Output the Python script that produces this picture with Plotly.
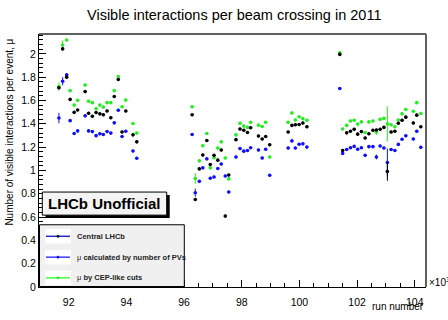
import plotly.graph_objects as go

# ---- data (run number in units of 10^3) ----
run_k = [91.66, 91.79, 91.93, 92.05, 92.19, 92.31, 92.57, 92.69, 92.82, 92.95,
         93.08, 93.20, 93.33, 93.46, 93.58, 93.72, 93.85, 93.98, 94.23, 94.36,
         96.28, 96.39, 96.53, 96.65, 96.79, 96.91, 97.04, 97.17, 97.29, 97.43,
         97.55, 97.80, 97.94, 98.07, 98.20, 98.31, 98.58, 98.71, 98.83, 98.97,
         99.61, 99.74, 99.86, 99.99, 100.12, 100.26,
         101.40, 101.50, 101.64, 101.77, 101.90, 102.02, 102.15, 102.28, 102.41, 102.55,
         102.67, 102.80, 102.93, 103.05, 103.18, 103.31, 103.43, 103.56, 103.69, 103.95,
         104.07, 104.21]

mu_central = [1.709, 2.042, 1.800, 1.609, 1.498, 1.518, 1.676, 1.490, 1.465, 1.496,
              1.485, 1.477, 1.510, 1.452, 1.634, 1.780, 1.330, 1.510, 1.305, 1.245,
              1.477, 0.751, 1.013, 1.132, 1.256, 1.051, 1.129, 1.088, 1.175, 0.608,
              0.960, 1.264, 1.355, 1.344, 1.325, 1.366, 1.295, 1.270, 1.291, 1.220,
              1.330, 1.386, 1.391, 1.394, 1.407, 1.374,
              1.995, 1.171, 1.322, 1.336, 1.353, 1.311, 1.333, 1.278, 1.314, 1.344,
              1.347, 1.353, 1.369, 0.991, 1.330, 1.336, 1.405, 1.430, 1.457, 1.407,
              1.474, 1.374]

mu_pv = [1.449, 1.765, 1.821, 1.427, 1.316, 1.339, 1.468, 1.339, 1.333, 1.298,
         1.314, 1.308, 1.333, 1.320, 1.408, 1.516, 1.291, 1.336, 1.167, 1.104,
         1.308, 0.809, 0.906, 1.022, 1.099, 0.933, 0.944, 1.016, 1.055, 0.952,
         0.815, 1.115, 1.187, 1.165, 1.171, 1.195, 1.175, 1.107, 1.181, 0.958,
         1.192, 1.253, 1.192, 1.225, 1.228, 1.200,
         1.703, 1.146, 1.179, 1.195, 1.206, 1.181, 1.195, 1.129, 1.204, 1.204,
         1.115, 1.209, 1.192, 1.068, 1.179, 1.171, 1.223, 1.267, 1.297, 1.270,
         1.336, 1.198]

mu_cep = [1.719, 2.075, 2.119, 1.684, 1.560, 1.601, 1.733, 1.593, 1.581, 1.529,
          1.560, 1.543, 1.581, 1.581, 1.684, 1.805, 1.546, 1.603, 1.402, 1.320,
          1.546, 0.930, 1.082, 1.212, 1.316, 1.022, 1.109, 1.192, 1.245, 1.107,
          0.927, 1.305, 1.405, 1.380, 1.369, 1.413, 1.388, 1.377, 1.413, 1.115,
          1.413, 1.493, 1.432, 1.460, 1.444, 1.430,
          2.009, 1.355, 1.386, 1.424, 1.430, 1.397, 1.416, 1.325, 1.416, 1.424,
          1.330, 1.438, 1.446, 1.399, 1.391, 1.374, 1.432, 1.485, 1.523, 1.507,
          1.581, 1.488]

# y errors (default small, a few visibly larger)
err_default = 0.012
err_central = {103.05: 0.08}
err_pv = {91.66: 0.045, 91.79: 0.035, 96.39: 0.035, 102.67: 0.02, 103.05: 0.12}
err_cep = {91.66: 0.035, 91.79: 0.04, 96.39: 0.046, 102.67: 0.027, 103.05: 0.15}

legend_labels = ["Central LHCb", "μ calculated by number of PVs", "μ by CEP-like cuts"]
title_text = "Visible interactions per beam crossing in 2011"
ytitle_text = "Number of visible interactions per event, μ"
xtitle_text = "run number"
x_ticks = [92, 94, 96, 98, 100, 102, 104]

# ---- layout geometry (pixels) ----
W, H = 448, 320
L, R, T, B = 39, 22, 34, 23
PW, PH = W - L - R, H - T - B


def px(x):
    return (x - L) / PW


def py(y):
    return (H - B - y) / PH


FONT = "Liberation Sans, Arial, Helvetica, sans-serif"
BLACK = "#000000"
BLUE = "#1010ff"
GREEN = "#22ee22"


def errs(d):
    return [d.get(x, err_default) for x in run_k]


fig = go.Figure()
for name, vals, col, ed in [(legend_labels[2], mu_cep, GREEN, err_cep),
                            (legend_labels[1], mu_pv, BLUE, err_pv),
                            (legend_labels[0], mu_central, BLACK, err_central)]:
    fig.add_trace(go.Scatter(
        x=run_k, y=vals, mode="markers", name=name, showlegend=False,
        marker=dict(size=3.6, color=col, line=dict(width=0)),
        error_y=dict(type="data", array=errs(ed), visible=True,
                     color=col, thickness=1, width=0),
        error_x=dict(type="constant", value=0.05, visible=True,
                     color=col, thickness=1, width=0),
    ))

shapes = []
# frame top/right (grey)
shapes.append(dict(type="line", xref="paper", yref="paper", x0=0, x1=1, y0=1, y1=1,
                   line=dict(color="#606060", width=2)))
shapes.append(dict(type="line", xref="paper", yref="paper", x0=1, x1=1, y0=0, y1=1,
                   line=dict(color="#606060", width=2)))

# legend box
shapes.append(dict(type="rect", xref="paper", yref="paper",
                   x0=px(39.5), x1=px(184.3), y0=py(296.5), y1=py(232.3),
                   fillcolor="#f0f0f0", line=dict(color="black", width=1), layer="above"))
entry_y = [244.3, 266.0, 287.5]
line_cols = ["#2828c8", "#3a3aff", "#44ff44"]
dot_cols = [BLACK, BLUE, GREEN]
annotations = []
for yy, lc, dc, lab in zip(entry_y, line_cols, dot_cols, legend_labels):
    shapes.append(dict(type="rect", xref="paper", yref="paper",
                       x0=px(45), x1=px(71), y0=py(yy + 7.5), y1=py(yy - 7.5),
                       fillcolor="white", line=dict(width=0), layer="above"))
    shapes.append(dict(type="line", xref="paper", yref="paper",
                       x0=px(46), x1=px(70), y0=py(yy), y1=py(yy),
                       line=dict(color=lc, width=1.5), layer="above"))
    shapes.append(dict(type="circle", xref="paper", yref="paper",
                       x0=px(56.8), x1=px(59.2), y0=py(yy + 1.2), y1=py(yy - 1.2),
                       fillcolor=dc, line=dict(color=dc, width=0.5), layer="above"))
    if lab.startswith("μ"):
        txt = "μ <b>" + lab[2:] + "</b>"
    else:
        txt = "<b>" + lab + "</b>"
    annotations.append(dict(text=txt, xref="paper", yref="paper", x=px(74.5), y=py(yy),
                            xanchor="left", yanchor="middle", showarrow=False,
                            font=dict(family=FONT, size=7.5, color="#222222")))

# LHCb Unofficial box with shadow
shapes.append(dict(type="rect", xref="paper", yref="paper",
                   x0=px(45.5), x1=px(169.7), y0=py(225.3), y1=py(201.3),
                   fillcolor="black", line=dict(width=0), layer="above"))
shapes.append(dict(type="rect", xref="paper", yref="paper",
                   x0=px(42.3), x1=px(166.7), y0=py(222.3), y1=py(198.3),
                   fillcolor="#f4f4f4", line=dict(color="black", width=1), layer="above"))
annotations.append(dict(text="<b>LHCb Unofficial</b>", xref="paper", yref="paper",
                        x=px(104.5), y=py(210.5), xanchor="center", yanchor="middle",
                        showarrow=False, font=dict(family=FONT, size=15, color="black")))

# title
annotations.append(dict(text=title_text, xref="paper", yref="paper",
                        x=px(234), y=py(14), xanchor="center", yanchor="middle",
                        showarrow=False, font=dict(family=FONT, size=14.5, color="black")))
# y title
annotations.append(dict(text=ytitle_text, xref="paper", yref="paper",
                        x=px(9.7), y=py(36.5), xanchor="center", yanchor="top",
                        textangle=-90, showarrow=False,
                        font=dict(family=FONT, size=10, color="black")))
# x title and multiplier
annotations.append(dict(text=xtitle_text, xref="paper", yref="paper",
                        x=px(426), y=py(309.5), xanchor="right", yanchor="top",
                        showarrow=False, font=dict(family=FONT, size=10, color="black")))
annotations.append(dict(text="×10<sup>3</sup>", xref="paper", yref="paper",
                        x=px(427), y=py(292), xanchor="left", yanchor="middle",
                        showarrow=False, font=dict(family=FONT, size=10, color="black")))

fig.update_layout(
    width=W, height=H,
    margin=dict(l=L, r=R, t=T, b=B, pad=0),
    paper_bgcolor="white", plot_bgcolor="white",
    showlegend=False,
    shapes=shapes, annotations=annotations,
    font=dict(family=FONT, size=10, color="black"),
    xaxis=dict(range=[90.97, 104.39], tickvals=x_ticks, ticktext=[str(v) for v in x_ticks],
               ticks="inside", ticklen=7, tickwidth=1, tickcolor="black",
               ticklabelstandoff=5,
               showline=True, linecolor="black", linewidth=1, mirror=False,
               showgrid=False, zeroline=False,
               minor=dict(dtick=0.5, tick0=90, ticks="inside", ticklen=4,
                          tickcolor="black", showgrid=False),
               tickfont=dict(family=FONT, size=10.5, color="black")),
    yaxis=dict(range=[0, 2.17], tick0=0, dtick=0.2,
               ticks="inside", ticklen=7, tickwidth=1, tickcolor="black",
               showline=True, linecolor="black", linewidth=1, mirror=False,
               showgrid=False, zeroline=False,
               minor=dict(dtick=0.04, tick0=0, ticks="inside", ticklen=4,
                          tickcolor="black", showgrid=False),
               tickfont=dict(family=FONT, size=10.5, color="black")),
)

fig.write_html("out.html")
